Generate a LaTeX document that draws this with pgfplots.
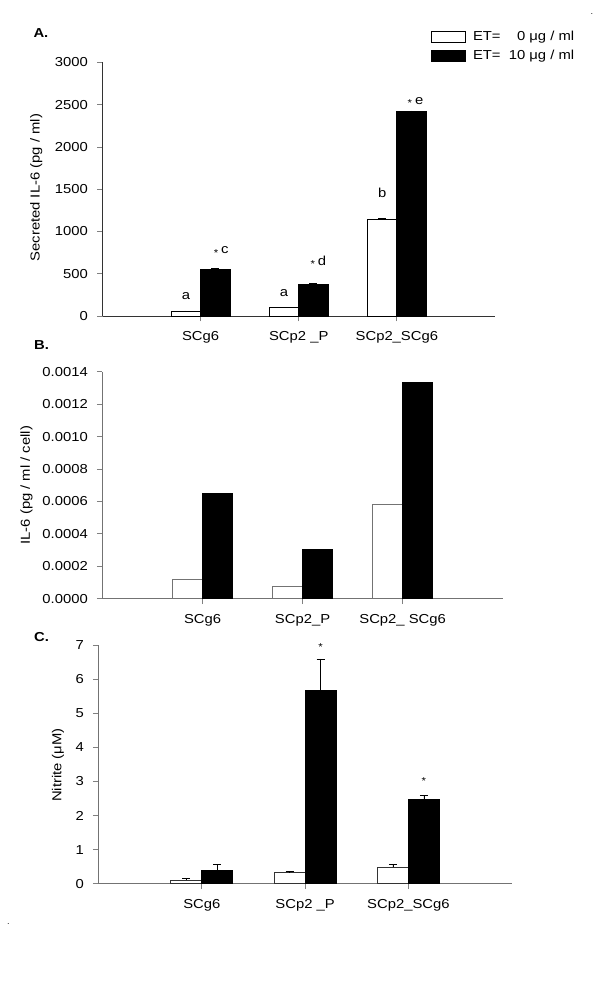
\documentclass[border=0pt]{standalone}
\usepackage{fontspec}
\setmainfont{Liberation Sans}[FakeStretch=1.14]
\setsansfont{Liberation Sans}[FakeStretch=1.14]
\usepackage{pgfplots}
\pgfplotsset{compat=1.18}
\pgfplotsset{
  panel/.style={
    scale only axis,
    axis x line*=bottom, axis y line*=left,
    xmin=0, xmax=4, ymin=0,
    xtick={1,2,3},
    tick align=outside, major tick length=5.5pt,
    font=\fontsize{13}{15}\selectfont,
    /pgf/number format/assume math mode=true,
    /pgf/number format/1000 sep={},
    yticklabel style={inner sep=0pt, anchor=east, xshift=-9pt},
    xticklabel style={inner sep=0pt, anchor=north, yshift=-10pt},
    axis line style={line width=0.8pt},
    tick style={line width=0.8pt},
    clip=false,
  },
  legendbox/.style={legend image code/.code={\draw[##1] (0pt,-5.5pt) rectangle (34pt,5.5pt);}},
  ebar/.style={error bars/.cd, y dir=plus, y explicit,
    error bar style={black, line width=0.6pt},
    error mark options={rotate=90, black, mark size=4pt, line width=0.6pt}},
}
\newcommand{\st}{\raisebox{-2.5pt}{\fontsize{10}{10}\selectfont *}}
\begin{document}
\fontsize{13}{15}\selectfont
\begin{tikzpicture}
\useasboundingbox (0pt,0pt) rectangle (600pt,994pt);
% panel letters and stray dots
\node[anchor=base west, inner sep=0pt, font=\fontsize{13}{13}\selectfont\bfseries] at (33.3pt,956.7pt) {A.};
\node[anchor=base west, inner sep=0pt, font=\fontsize{13}{13}\selectfont\bfseries] at (34pt,644pt) {B.};
\node[anchor=base west, inner sep=0pt, font=\fontsize{13}{13}\selectfont\bfseries] at (34pt,352.3pt) {C.};
\node[inner sep=0pt, font=\fontsize{8}{8}\selectfont] at (592pt,980pt) {.};
\node[inner sep=0pt, font=\fontsize{8}{8}\selectfont] at (8.5pt,70pt) {.};

% ---------------- Panel A ----------------
\begin{axis}[panel,
  at={(102.5pt,678pt)}, anchor=south west,
  width=392.5pt, height=253.5pt,
  ymax=3000, ytick={0,500,1000,1500,2000,2500,3000},
  xticklabels={SCg6, SCp2 \_P, SCp2\_SCg6},
  axis line style={black!80},
  ylabel={Secreted IL-6 (pg / ml)},
  ylabel style={at={(axis description cs:-0.169,0.506)}, anchor=center},
  legend style={at={(axis description cs:0.837,1.127)}, anchor=north west,
    draw=none, fill=none, inner sep=0pt, row sep=5pt, column sep=6pt,
    nodes={inner sep=1pt}, font=\fontsize{13}{15}\selectfont},
  legend cell align=left,
]
\addplot[ybar, bar width=0.3, bar shift=0pt, fill=white, draw=black, line width=0.8pt, legendbox, ebar]
  coordinates {(0.85,58) +- (0,3) (1.85,98) +- (0,5) (2.85,1143) +- (0,10)};
\addlegendentry{ET=\ \ \phantom{1}0 μg / ml}
\addplot[ybar, bar width=0.3, bar shift=0pt, fill=black, draw=black, line width=0.8pt, legendbox, ebar]
  coordinates {(1.15,555) +- (0,12) (2.15,374) +- (0,12) (3.15,2416) +- (0,12)};
\addlegendentry{ET=\ \ 10 μg / ml}
\node at (axis cs:0.85,241) {a};
\node at (axis cs:1.85,269) {a};
\node at (axis cs:2.85,1455) {b};
\node at (axis cs:1.21,762) {\st\hspace{3pt}c};
\node at (axis cs:2.20,644) {\st\hspace{3pt}d};
\node at (axis cs:3.19,2533) {\st\hspace{3pt}e};
\end{axis}

% ---------------- Panel B ----------------
\begin{axis}[panel,
  at={(102.5pt,395.3pt)}, anchor=south west,
  width=400.2pt, height=226.9pt,
  ymax=0.0014, ytick={0,0.0002,0.0004,0.0006,0.0008,0.0010,0.0012,0.0014},
  scaled y ticks=false,
  yticklabel style={/pgf/number format/.cd, fixed, fixed zerofill, precision=4},
  xticklabels={SCg6, SCp2\_P, SCp2\_ SCg6},
  axis line style={black!55},
  ylabel={IL-6 (pg / ml / cell)},
  ylabel style={at={(axis description cs:-0.19,0.50)}, anchor=center},
]
\addplot[ybar, bar width=0.3, bar shift=0pt, fill=white, draw=black!55, line width=0.8pt]
  coordinates {(0.85,0.000117) (1.85,0.000074) (2.85,0.000582)};
\addplot[ybar, bar width=0.3, bar shift=0pt, fill=black, draw=black, line width=0.8pt]
  coordinates {(1.15,0.000648) (2.15,0.000304) (3.15,0.001334)};
\end{axis}

% ---------------- Panel C ----------------
\begin{axis}[panel,
  at={(98.5pt,110.3pt)}, anchor=south west,
  width=413.2pt, height=238.7pt,
  ymax=7, ytick={0,1,2,3,4,5,6,7},
  xticklabels={SCg6, SCp2 \_P, SCp2\_SCg6},
  axis line style={black!55},
  ylabel={Nitrite (μM)},
  ylabel style={at={(axis description cs:-0.098,0.497)}, anchor=center},
]
\addplot[ybar, bar width=0.3, bar shift=0pt, fill=white, draw=black!80, line width=0.8pt, ebar]
  coordinates {(0.85,0.107) +- (0,0.05) (1.85,0.33) +- (0,0.02) (2.85,0.48) +- (0,0.09)};
\addplot[ybar, bar width=0.3, bar shift=0pt, fill=black, draw=black, line width=0.8pt, ebar]
  coordinates {(1.15,0.40) +- (0,0.17) (2.15,5.66) +- (0,0.93) (3.15,2.46) +- (0,0.13)};
\node at (axis cs:2.15,6.93) {\fontsize{10}{10}\selectfont *};
\node at (axis cs:3.15,3.02) {\fontsize{10}{10}\selectfont *};
\end{axis}
\end{tikzpicture}
\end{document}
